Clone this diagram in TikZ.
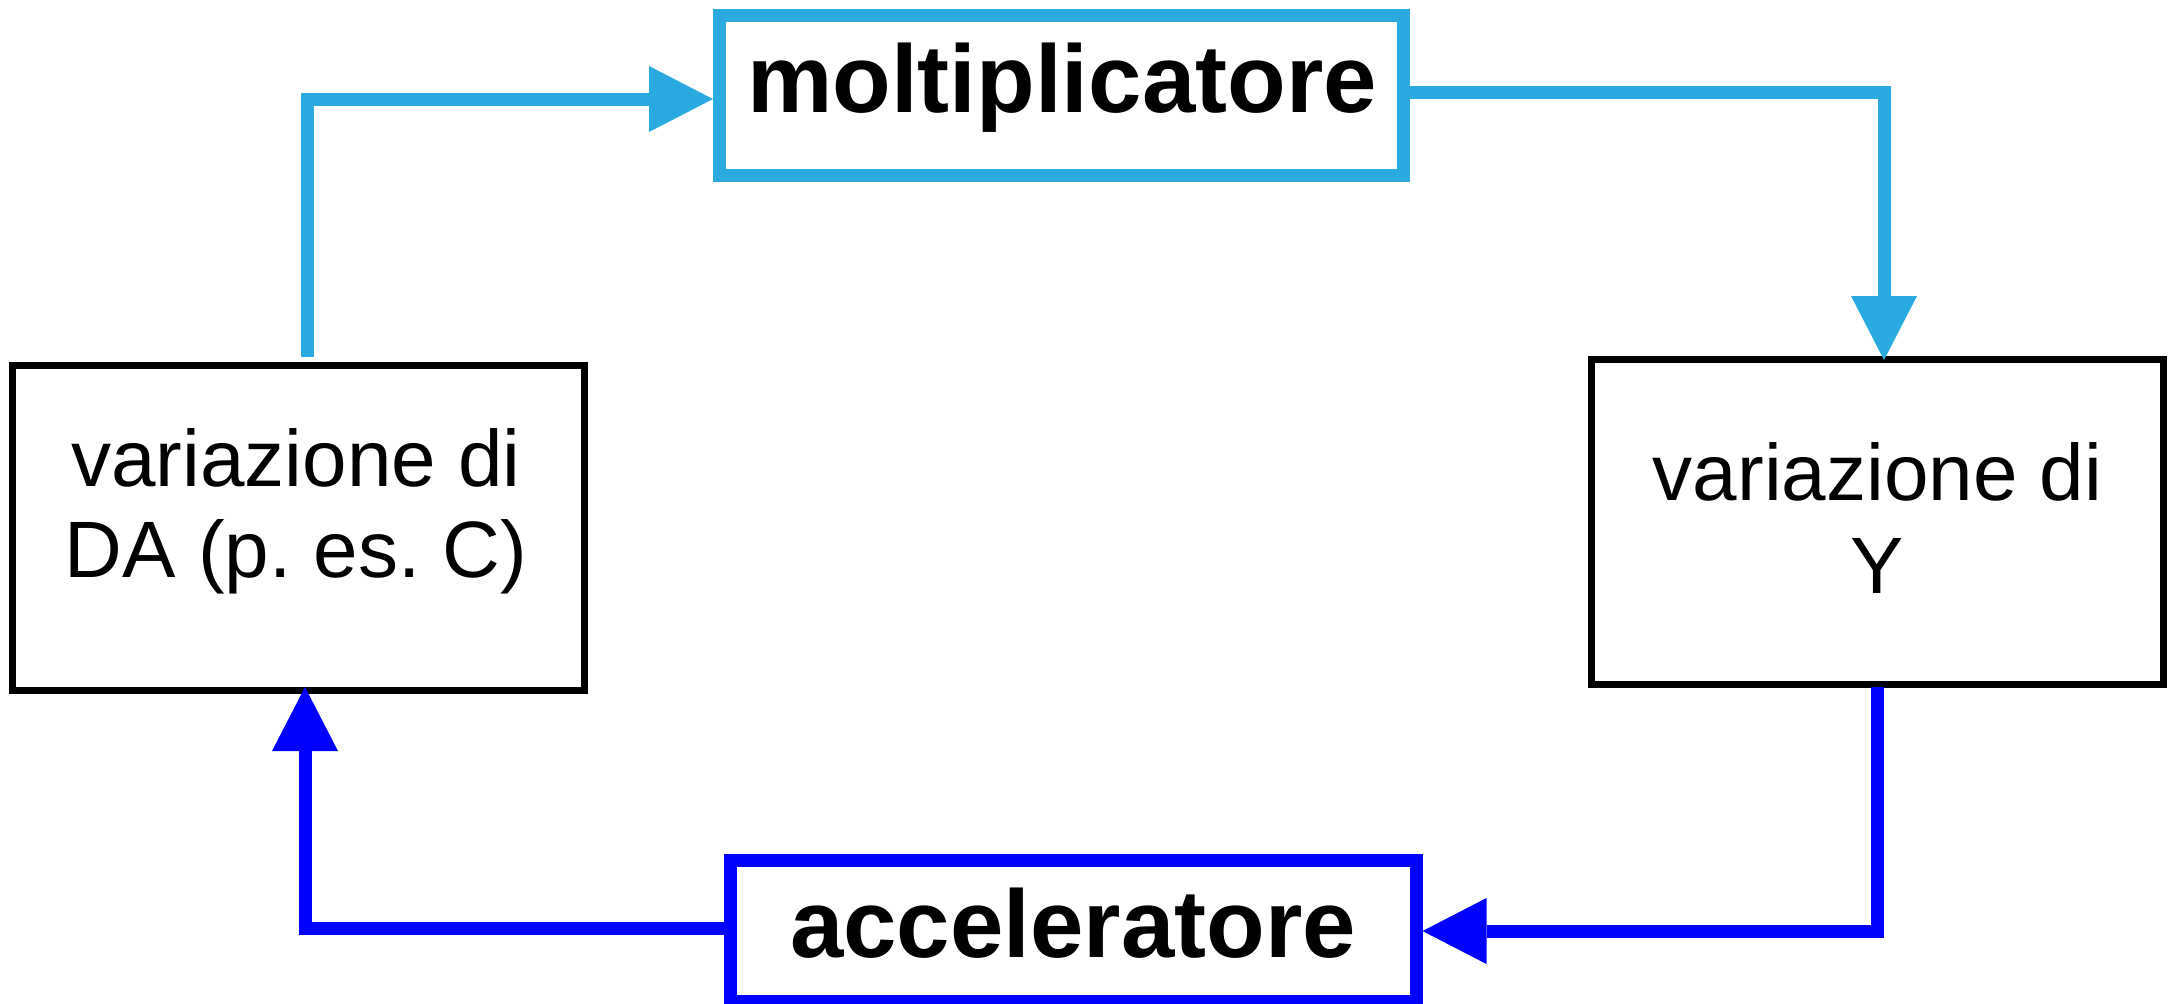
\documentclass[tikz,border=0pt]{standalone}
\usepackage{fontspec}
\setmainfont{Liberation Sans}
\usetikzlibrary{arrows.meta,calc}
\definecolor{moltcyan}{RGB}{41,171,226}
\definecolor{accblue}{RGB}{0,0,255}
\frenchspacing

\begin{document}
\begin{tikzpicture}[x=0.5pt,y=-0.5pt,
  plainbox/.style={draw=black, line width=3.5pt, rectangle, inner sep=0pt,
    minimum width=286pt, minimum height=162.5pt},
  moltbox/.style={draw=moltcyan, line width=6.5pt, rectangle, inner sep=0pt,
    minimum width=342pt, minimum height=80pt},
  accbox/.style={draw=accblue, line width=6.5pt, rectangle, inner sep=0pt,
    minimum width=343pt, minimum height=70.75pt},
  lbl/.style={inner sep=0pt, anchor=base, font=\fontsize{40pt}{48pt}\selectfont},
  boldlbl/.style={inner sep=0pt, anchor=base, font=\fontsize{48pt}{58pt}\selectfont\bfseries},
  tip/.style={-{Triangle[length=32pt, width=33pt, line width=0pt]}},
  cyanline/.style={draw=moltcyan, line width=6.5pt, tip},
  blueline/.style={draw=accblue, line width=6.5pt, tip},
]
\useasboundingbox (0,0) rectangle (2168,1003);
\fill[white] (0,0) rectangle (2168,1003);

% boxes
\node[plainbox] (da) at (298.75,528) {};
\node[plainbox] (y) at (1877.5,522) {};
\node[moltbox] (molt) at (1061.5,95.5) {};
\node[accbox] (acc) at (1073,930.75) {};

% box texts
\node[lbl] (da-l1) at (296,486) {variazione di};
\node[lbl] (da-l2) at (296,577) {DA (p. es. C)};
\node[lbl] (y-l1) at (1877.5,500) {variazione di};
\node[lbl] (y-l2) at (1877.5,593) {Y};
\node[boldlbl] (molt-t) at (1062,112) {moltiplicatore};
\node[boldlbl] (acc-t) at (1073,957) {acceleratore};

% multiplier loop (cyan)
\draw[cyanline] ($(da.north)+(8.25,-5)$) |- ($(molt.west)+(0,3.5)$);
\draw[cyanline] ($(molt.east)+(0,-3)$) -| ($(y.north)+(6.5,4)$);

% accelerator loop (blue)
\draw[blueline] ($(y.south)+(0,-1)$) |- ($(acc.east)+(0,0.25)$);
\draw[blueline] ($(acc.west)+(0,-2)$) -| ($(da.south)+(6.25,-7)$);
\end{tikzpicture}
\end{document}
